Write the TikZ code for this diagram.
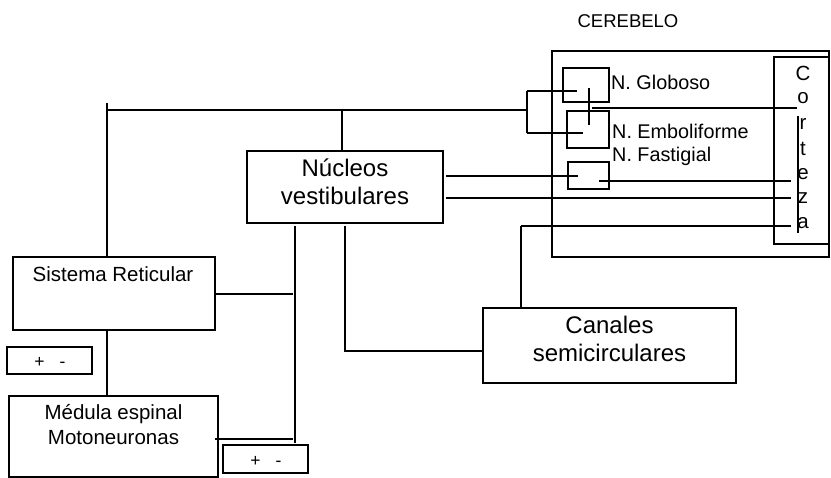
\documentclass[tikz,border=0pt]{standalone}
\usepackage{fontspec}
\setmainfont{Liberation Sans}
\begin{document}
\begin{tikzpicture}[x=1pt,y=-1pt,
  box/.style={draw,line width=1.5pt,inner sep=0pt,rectangle},
  ln/.style={line width=1.6pt},
  thin/.style={line width=1.2pt},
  lbl/.style={inner sep=0pt,font=\fontsize{19.8}{23}\selectfont},
  big/.style={inner sep=0pt,align=center,font=\fontsize{24}{28}\selectfont},
  mid/.style={inner sep=0pt,align=center,font=\fontsize{20.5}{25}\selectfont},
  let/.style={inner sep=0pt,font=\fontsize{17.5}{20}\selectfont},
  cl/.style={inner sep=0pt,font=\fontsize{20.5}{20}\selectfont}]
\useasboundingbox (0,0) rectangle (831,478);
% title
\node[let,font=\fontsize{18.5}{20}\selectfont] (title) at (628,21) {CEREBELO};
% cerebelo boxes
\node[box,line width=1.2pt,minimum width=277,minimum height=206] (cer) at (690.5,154) {};
\node[box,minimum width=55,minimum height=187] (cor) at (801.5,150.5) {};
\node[box,minimum width=46,minimum height=34] (glo) at (586,85) {};
\node[box,minimum width=42,minimum height=37] (emb) at (588,129.5) {};
\node[box,minimum width=41,minimum height=27] (fas) at (588.5,175.5) {};
\node[lbl,anchor=west] (tglo) at (611,82) {N. Globoso};
\node[lbl,anchor=west] (temb) at (612,131) {N. Emboliforme};
\node[lbl,anchor=west] (tfas) at (612,156) {N. Fastigial};
% corteza letters
\foreach \l/\y/\n in {C/73/c1,o/98/c2,r/124/c3,t/149/c4,e/174/c5,z/198/c6,a/223/c7}
  \node[cl] (\n) at (803,\y) {\l};
% main boxes
\node[box,minimum width=196,minimum height=72] (nuc) at (345,187) {};
\node[big] (tnuc) at (345,182) {Núcleos\\vestibulares};
\node[box,minimum width=202,minimum height=73] (sr) at (114,293.5) {};
\node[mid] (tsr) at (113,274) {Sistema Reticular};
\node[box,minimum width=209,minimum height=81] (med) at (113.5,436.5) {};
\node[mid] (tmed) at (113.5,424.5) {Médula espinal\\Motoneuronas};
\node[box,minimum width=253,minimum height=75] (can) at (609.5,345.5) {};
\node[big] (tcan) at (609.5,338.5) {Canales\\semicirculares};
\node[box,line width=1.2pt,minimum width=85,minimum height=27] (pm1) at (49.5,360.5) {};
\node[let] (tpm1) at (50,362) {+\hspace{15pt}-};
\node[box,line width=1.2pt,minimum width=85,minimum height=28] (pm2) at (265.5,459) {};
\node[let] (tpm2) at (266,461) {+\hspace{15pt}-};
% coordinates
\coordinate (jl) at (107,110);
\coordinate (jn) at (342,110);
\coordinate (jb) at (527,110);
\coordinate (bt) at (527,91);
\coordinate (bb) at (527,133);
% connectors
\draw[ln] (107,103) -- (sr.north -| jl);
\draw[ln] (jl) -- (jb);
\draw[ln] (jn) -- (nuc.north -| jn);
\draw[ln] (bt) -- (bb);
\draw[ln] (bt) -- (577,91);
\draw[ln] (bb) -- (583,133);
\draw[ln] (589,88) -- (589,125);
\draw[ln] (592,108) -- (797,108);
\draw[thin] (446,176) -- (578,176);
\draw[thin] (599,181) -- (791,181);
\draw[thin] (446,198) -- (791,198);
\draw[ln] (798,116) -- (798,233);
\draw[ln] (521,226) -- (791,226);
\draw[ln] (521,226) -- (can.north -| 521,0);
\draw[ln] (295,226) -- (295,443);
\draw[ln] (345,226) -- (345,351) -- (can.west |- 0,351);
\draw[thin] (sr.east |- 0,294) -- (293,294);
\draw[thin] (sr.south -| jl) -- (med.north -| jl);
\draw[thin] (215,439) -- (293,439);
\end{tikzpicture}
\end{document}
